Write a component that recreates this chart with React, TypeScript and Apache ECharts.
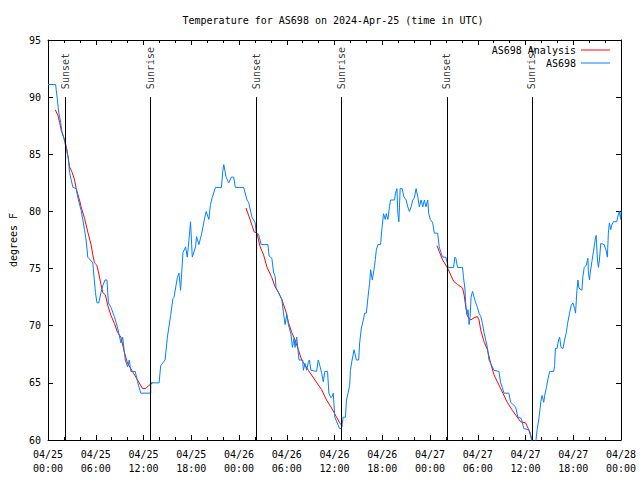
import React, { useEffect, useRef } from 'react';
import * as echarts from 'echarts';

const FONT = '"DejaVu Sans Mono", "Liberation Mono", monospace';

const titleText = 'Temperature for AS698 on 2024-Apr-25 (time in UTC)';
const stationName = 'AS698';
const analysisName = 'AS698 Analysis';

// hours since 04/25 00:00 UTC
const blueHours = [
  0, 0.96, 1.04, 1.16, 1.34, 1.59, 1.75, 1.96, 2.13, 2.38,
  2.54, 2.71, 3.13, 3.54, 3.75, 4.16, 4.38, 4.59, 4.79, 5.0,
  5.63, 5.96, 6.16, 6.38, 6.66, 6.88, 7.16, 7.41, 7.59, 7.91,
  8.34, 8.75, 9.16, 9.38, 9.71, 10.0, 10.21, 10.41, 10.96, 11.25,
  11.66, 12.91, 12.92, 13.96, 14.16, 14.71, 15.0, 15.41, 15.71, 15.84,
  16.25, 16.46, 16.66, 16.96, 17.29, 17.5, 17.71, 17.91, 18.13, 18.54,
  18.66, 18.96, 19.29, 19.71, 19.88, 20.21, 20.41, 20.63, 21.04, 21.79,
  21.96, 22.09, 22.38, 22.71, 23.04, 23.34, 23.54, 24.59, 25.0, 25.21,
  25.63, 26.04, 26.16, 26.46, 26.79, 27.63, 27.79, 28.13, 28.34, 28.54,
  28.66, 28.96, 29.38, 29.59, 29.79, 30.0, 30.21, 30.54, 30.71, 30.91,
  31.04, 31.25, 31.54, 32.0, 32.09, 32.29, 32.5, 32.71, 32.84, 33.04,
  33.75, 33.96, 34.16, 34.38, 34.59, 34.79, 35.13, 35.29, 35.54, 35.71,
  35.84, 36.04, 36.46, 36.63, 36.88, 37.09, 37.38, 37.5, 37.71, 37.91,
  38.0, 38.21, 38.46, 38.75, 39.04, 39.16, 39.38, 39.59, 39.79, 40.0,
  40.21, 40.41, 40.54, 40.75, 40.96, 41.13, 41.25, 41.46, 41.79, 41.96,
  42.16, 42.38, 42.5, 42.71, 42.91, 43.04, 43.54, 43.66, 43.84, 43.96,
  44.09, 44.25, 44.5, 44.71, 45.0, 45.21, 45.41, 45.63, 45.84, 46.04,
  46.25, 46.46, 46.66, 46.88, 47.09, 47.29, 47.5, 47.71, 47.84, 48.04,
  48.34, 48.54, 48.96, 49.16, 49.38, 49.59, 50.0, 50.13, 50.29, 50.96,
  51.13, 51.25, 51.46, 52.09, 52.21, 52.38, 52.5, 52.63, 52.79, 52.91,
  53.04, 53.16, 53.34, 53.54, 53.75, 53.96, 54.16, 54.38, 54.59, 54.79,
  55.0, 55.21, 55.41, 55.63, 55.84, 56.04, 56.66, 56.88, 57.09, 57.29,
  57.91, 58.13, 58.75, 59.04, 59.46, 59.79, 60.41, 60.63, 60.84, 61.25,
  61.46, 61.66, 61.96, 62.09, 62.29, 62.41, 62.63, 62.84, 63.04, 63.54,
  63.66, 63.75, 63.96, 64.16, 64.29, 64.46, 64.71, 64.91, 65.13, 65.29,
  65.54, 65.75, 65.96, 66.16, 66.29, 66.46, 66.59, 66.71, 67.09, 67.21,
  67.38, 67.63, 67.84, 67.91, 68.04, 68.13, 68.34, 68.54, 68.75, 68.88,
  69.04, 69.16, 69.29, 69.46, 69.88, 70.13, 70.29, 70.41, 70.54, 70.71,
  70.84, 71.04, 71.46, 71.66, 71.79, 71.96, 72.0,
];

const blueTemps = [
  91.1, 91.1, 90.6, 89.9, 88.7, 87.8, 87.0, 86.5, 86.0, 85.2,
  84.7, 83.4, 82.1, 82.0, 81.2, 80.1, 79.25, 78.4, 77.5, 76.0,
  75.5, 72.9, 72.0, 72.0, 72.9, 73.5, 74.0, 74.0, 72.0, 71.6,
  70.8, 69.8, 68.5, 69.0, 67.0, 66.4, 67.0, 66.0, 66.0, 65.1,
  64.1, 64.1, 65.0, 65.0, 66.5, 67.0, 69.0, 70.9, 72.4, 72.5,
  74.2, 74.6, 73.1, 76.4, 76.9, 76.0, 77.5, 79.1, 76.0, 76.9,
  77.8, 77.1, 78.0, 79.5, 80.0, 79.3, 80.6, 81.2, 82.1, 82.1,
  83.5, 84.1, 83.0, 82.5, 83.0, 83.0, 82.1, 82.1, 81.0, 80.8,
  79.5, 79.0, 78.1, 78.0, 77.1, 77.1, 76.1, 75.9, 74.7, 74.3,
  73.3, 72.9, 72.3, 71.1, 70.1, 71.0, 70.1, 69.2, 68.1, 68.9,
  68.1, 69.0, 67.0, 67.0, 66.1, 66.7, 66.1, 66.8, 67.0, 66.1,
  66.0, 67.0, 66.5, 65.9, 65.1, 66.0, 66.0, 64.1, 63.7, 63.8,
  64.1, 62.0, 61.3, 61.0, 61.0, 62.0, 62.0, 63.5, 64.1, 64.8,
  66.1, 67.0, 67.9, 67.0, 67.0, 68.5, 69.8, 70.4, 71.1, 71.1,
  72.5, 73.7, 74.9, 74.0, 74.9, 75.8, 76.6, 77.1, 77.1, 78.5,
  79.8, 79.3, 79.8, 79.3, 80.4, 81.0, 81.0, 81.6, 82.0, 79.8,
  79.1, 82.0, 82.0, 81.3, 81.0, 80.4, 80.0, 80.4, 81.0, 81.2,
  82.0, 81.3, 80.4, 81.0, 80.4, 81.0, 80.4, 81.0, 79.8, 79.3,
  79.0, 78.1, 78.1, 76.9, 76.4, 76.0, 76.0, 75.6, 75.1, 75.1,
  76.0, 75.9, 75.1, 75.1, 74.2, 73.3, 71.8, 71.0, 71.4, 70.1,
  70.8, 72.5, 73.0, 72.5, 72.0, 71.6, 71.1, 70.8, 70.2, 69.4,
  68.75, 68.1, 67.0, 66.7, 66.4, 66.1, 66.0, 65.0, 64.6, 64.1,
  64.1, 63.3, 62.9, 62.0, 61.9, 61.0, 60.9, 60.6, 59.6, 59.6,
  60.9, 61.75, 63.5, 63.9, 63.3, 63.9, 64.6, 65.4, 66.0, 66.0,
  66.5, 68.0, 68.0, 68.75, 69.0, 68.1, 68.0, 68.75, 69.4, 70.2,
  71.1, 71.8, 72.0, 71.5, 71.1, 73.1, 74.0, 73.3, 73.1, 74.3,
  75.1, 75.3, 75.9, 74.6, 74.0, 74.6, 75.6, 76.5, 77.5, 77.9,
  75.75, 75.1, 75.75, 77.2, 77.1, 76.6, 76.0, 78.1, 79.0, 78.4,
  78.8, 79.1, 79.1, 79.7, 80.0, 79.3, 80.0,
];

const analysis1Hours = [0.91, 1.25, 1.46, 1.66, 2.09, 2.38, 2.71, 3.04, 3.34, 3.54, 3.96, 4.16, 4.59, 5.0, 5.41, 5.63, 5.84, 6.13, 6.34, 6.66, 6.88, 7.21, 7.5, 7.91, 8.34, 8.75, 9.16, 9.59, 10.0, 10.54, 11.04, 11.46, 11.88, 12.29, 12.71, 13.13];
const analysis1Temps = [88.9, 88.4, 87.8, 87.1, 86.25, 85.4, 83.9, 83.4, 82.75, 82.0, 81.0, 80.4, 79.4, 78.2, 77.1, 76.2, 75.5, 75.3, 74.7, 73.6, 72.9, 72.7, 71.8, 70.9, 70.2, 69.4, 69.0, 67.7, 66.7, 66.1, 65.5, 65.0, 64.5, 64.5, 64.8, 65.0];

const analysis2Hours = [24.88, 25.41, 25.91, 26.25, 26.66, 27.09, 27.5, 28.13, 28.54, 28.96, 29.38, 29.91, 30.21, 30.63, 31.04, 31.46, 31.88, 32.71, 33.54, 34.38, 35.0, 35.63, 36.25, 36.66, 37.0];
const analysis2Temps = [80.3, 79.25, 78.2, 78.1, 76.9, 76.2, 75.15, 74.2, 73.4, 72.9, 72.3, 71.2, 70.3, 69.4, 68.75, 67.9, 67.0, 66.1, 65.25, 64.4, 63.5, 62.8, 62.0, 61.5, 61.2];

const analysis3Hours = [48.88, 49.16, 49.59, 50.21, 50.63, 50.96, 51.46, 52.09, 52.29, 52.5, 52.71, 53.13, 53.54, 53.96, 54.16, 54.38, 54.79, 55.21, 55.63, 56.04, 56.46, 57.09, 57.71, 58.34, 58.96, 59.38, 60.0, 60.41, 60.63, 60.84, 61.0];
const analysis3Temps = [77.0, 76.5, 75.75, 75.05, 74.4, 73.9, 73.6, 73.3, 72.7, 71.6, 70.8, 70.5, 70.7, 70.8, 70.5, 69.6, 68.6, 67.9, 66.7, 65.7, 65.1, 64.2, 63.3, 62.6, 62.0, 61.6, 61.5, 60.9, 60.4, 60.0, 59.6];

const eventHours = [2.16, 12.91, 26.16, 36.91, 50.13, 60.79];
const eventNames = ['Sunset', 'Sunrise', 'Sunset', 'Sunrise', 'Sunset', 'Sunrise'];
const eventTop = 90;

const xMin = 0;
const xMax = 72;
const xStep = 6;
const yMin = 60;
const yMax = 95;
const yStep = 5;

const BLUE = '#0080ff';
const RED = '#ff0000';

function pairs(xs: number[], ys: number[]) {
  return xs.map((x, i) => [x, ys[i]]);
}

function fmtTime(v: number) {
  const day = 25 + Math.floor(v / 24);
  const hh = Math.round(v % 24);
  return `04/${day}\n${String(hh).padStart(2, '0')}:00`;
}

export default function App() {
  const ref = useRef<HTMLDivElement>(null);

  useEffect(() => {
    const chart = echarts.init(ref.current!, null, { renderer: 'svg' });

    const lineStyleBlack = { color: '#000', width: 1 };
    const xAxisBase = {
      type: 'value',
      min: xMin,
      max: xMax,
      interval: xStep,
      axisLine: { show: true, onZero: false, lineStyle: lineStyleBlack },
      axisTick: { show: true, inside: true, length: 5, lineStyle: lineStyleBlack },
      minorTick: { show: true, splitNumber: 3, length: 3, lineStyle: lineStyleBlack },
      splitLine: { show: false },
      minorSplitLine: { show: false },
    };
    const yAxisBase = {
      type: 'value',
      min: yMin,
      max: yMax,
      interval: yStep,
      axisLine: { show: true, onZero: false, lineStyle: lineStyleBlack },
      axisTick: { show: true, inside: true, length: 5, lineStyle: lineStyleBlack },
      splitLine: { show: false },
    };
    const textBase = { fontFamily: FONT, fontSize: 10, color: '#000' };

    const analysisSeries = [
      pairs(analysis1Hours, analysis1Temps),
      pairs(analysis2Hours, analysis2Temps),
      pairs(analysis3Hours, analysis3Temps),
    ].map((d) => ({
      name: analysisName,
      type: 'line',
      data: d,
      showSymbol: false,
      symbol: 'none',
      color: RED,
      lineStyle: { color: RED, width: 1 },
      silent: true,
      z: 2,
    }));

    const option = {
      animation: false,
      backgroundColor: '#fff',
      title: {
        text: titleText,
        left: 333,
        top: 15,
        textAlign: 'center',
        padding: 0,
        textStyle: { ...textBase, fontWeight: 'normal' },
      },
      grid: { left: 45, right: 19, top: 40, bottom: 40, containLabel: false },
      legend: [
        {
          data: [analysisName],
          right: 30,
          top: 45,
          align: 'right',
          icon: 'rect',
          itemWidth: 29,
          itemHeight: 1,
          padding: 0,
          selectedMode: false,
          textStyle: { ...textBase },
        },
        {
          data: [stationName],
          right: 30,
          top: 58,
          align: 'right',
          icon: 'rect',
          itemWidth: 29,
          itemHeight: 1,
          padding: 0,
          selectedMode: false,
          textStyle: { ...textBase },
        },
      ],
      xAxis: [
        {
          ...xAxisBase,
          position: 'bottom',
          axisLabel: {
            ...textBase,
            formatter: fmtTime,
            margin: 7,
            lineHeight: 14,
            showMinLabel: true,
            showMaxLabel: true,
          },
        },
        { ...xAxisBase, position: 'top', axisLabel: { show: false } },
      ],
      yAxis: [
        {
          ...yAxisBase,
          position: 'left',
          name: 'degrees F',
          nameLocation: 'middle',
          nameGap: 30,
          nameTextStyle: { ...textBase },
          axisLabel: { ...textBase, margin: 7 },
        },
        { ...yAxisBase, position: 'right', axisLabel: { show: false } },
      ],
      series: [
        ...analysisSeries,
        {
          name: stationName,
          type: 'line',
          data: pairs(blueHours, blueTemps),
          showSymbol: false,
          symbol: 'none',
          color: BLUE,
          lineStyle: { color: BLUE, width: 1 },
          silent: true,
          z: 3,
        },
        {
          name: 'events',
          type: 'scatter',
          symbolSize: 0,
          silent: true,
          z: 4,
          data: eventHours.map((h, i) => ({ value: [h, eventTop], name: eventNames[i] })),
          label: {
            show: true,
            formatter: '{b}',
            position: 'top',
            distance: 8,
            rotate: 90,
            align: 'left',
            verticalAlign: 'middle',
            ...textBase,
          },
          markLine: {
            silent: true,
            symbol: ['none', 'none'],
            label: { show: false },
            lineStyle: { color: '#000', width: 1, type: 'solid' },
            data: eventHours.map((h) => [{ coord: [h, yMin] }, { coord: [h, eventTop] }]),
          },
        },
      ],
    };

    chart.setOption(option as any);
    return () => chart.dispose();
  }, []);

  return (
    <div
      ref={ref}
      style={{ position: 'fixed', left: 0, top: 0, width: 640, height: 480, background: '#fff' }}
    />
  );
}
